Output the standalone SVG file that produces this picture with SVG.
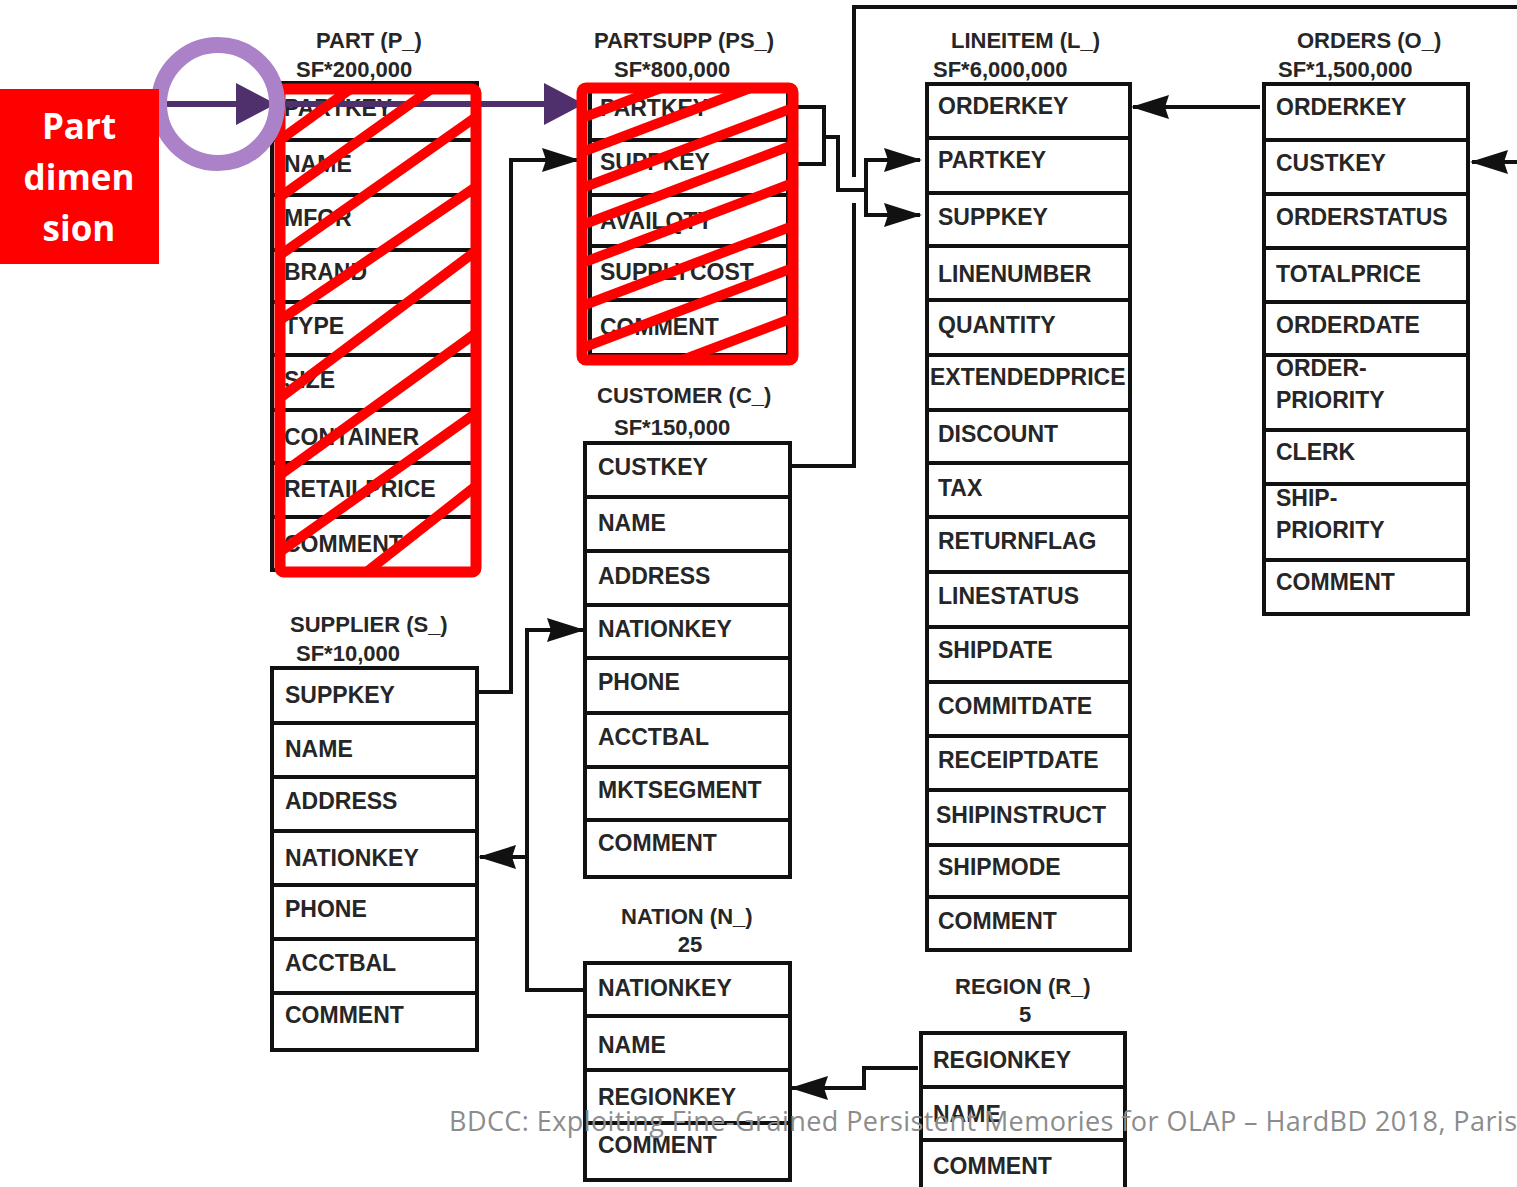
<svg xmlns="http://www.w3.org/2000/svg" width="1517" height="1187" viewBox="0 0 1517 1187">
  <style>
    .box { fill: #ffffff; stroke: #111111; stroke-width: 4; }
    .sep { fill: none; stroke: #111111; stroke-width: 4; }
    .fld { font-family: "Liberation Sans", Arial, sans-serif; font-weight: bold; font-size: 23px; fill: #262626; }
    .ttl { font-family: "Liberation Sans", Arial, sans-serif; font-weight: bold; font-size: 22px; fill: #262626; }
    .mid { text-anchor: middle; }
    .wire { fill: none; stroke: #111111; stroke-width: 4; }
    .arrow { marker-end: url(#ah); }
    .plink { fill: none; stroke: #50306c; stroke-width: 6; marker-end: url(#pah); }
    .frame { fill: none; stroke: #ff0000; stroke-width: 11; }
    .hatch { fill: none; stroke: #ff0000; stroke-width: 10; }
    .tag { font-family: "Open Sans", "Liberation Sans", sans-serif; font-weight: bold; font-size: 35px; fill: #ffffff; text-anchor: middle; }
    .foot { font-family: "Open Sans", "Liberation Sans", sans-serif; font-size: 27px; fill: #8c8c8c; }
  </style>
  <defs>
    <marker id="ah" markerUnits="userSpaceOnUse" markerWidth="38" markerHeight="24" refX="36" refY="12" orient="auto">
      <path d="M0,0 L38,12 L0,24 L4,12 z" fill="#111111"/>
    </marker>
    <marker id="pah" markerUnits="userSpaceOnUse" markerWidth="40" markerHeight="42" refX="38" refY="21" orient="auto">
      <path d="M0,0 L40,21 L0,42 z" fill="#50306c"/>
    </marker>
    <clipPath id="clipPart"><rect x="280" y="89" width="196" height="483"/></clipPath>
    <clipPath id="clipPs"><rect x="582" y="88" width="211" height="272"/></clipPath>
  </defs>

  <rect width="1517" height="1187" fill="#ffffff"/>

  <!-- PART -->
  <g id="part">
    <text class="ttl" x="316" y="48">PART (P_)</text>
    <text class="ttl" x="296" y="77">SF*200,000</text>
    <rect class="box" x="272" y="83" width="205" height="487"/>
    <path class="sep" d="M272,140H477M272,195H477M272,250H477M272,302H477M272,355H477M272,410H477M272,463H477M272,517H477"/>
    <text class="fld" x="284" y="116">PARTKEY</text>
    <text class="fld" x="284" y="172">NAME</text>
    <text class="fld" x="284" y="226">MFGR</text>
    <text class="fld" x="284" y="280">BRAND</text>
    <text class="fld" x="284" y="334">TYPE</text>
    <text class="fld" x="284" y="388">SIZE</text>
    <text class="fld" x="284" y="445">CONTAINER</text>
    <text class="fld" x="284" y="497">RETAILPRICE</text>
    <text class="fld" x="284" y="552">COMMENT</text>
  </g>

  <!-- PARTSUPP -->
  <g id="partsupp">
    <text class="ttl" x="594" y="48">PARTSUPP (PS_)</text>
    <text class="ttl" x="614" y="77">SF*800,000</text>
    <rect class="box" x="590" y="86" width="198" height="269"/>
    <path class="sep" d="M590,140H788M590,195H788M590,246H788M590,300H788"/>
    <text class="fld" x="600" y="116">PARTKEY</text>
    <text class="fld" x="600" y="170">SUPPKEY</text>
    <text class="fld" x="600" y="229">AVAILQTY</text>
    <text class="fld" x="600" y="280">SUPPLYCOST</text>
    <text class="fld" x="600" y="335">COMMENT</text>
  </g>

  <!-- LINEITEM -->
  <g id="lineitem">
    <text class="ttl" x="951" y="48">LINEITEM (L_)</text>
    <text class="ttl" x="933" y="77">SF*6,000,000</text>
    <rect class="box" x="927" y="84" width="203" height="866"/>
    <path class="sep" d="M927,138H1130M927,193H1130M927,246H1130M927,300H1130M927,355H1130M927,410H1130M927,463H1130M927,517H1130M927,572H1130M927,627H1130M927,682H1130M927,736H1130M927,790H1130M927,845H1130M927,897H1130"/>
    <text class="fld" x="938" y="114">ORDERKEY</text>
    <text class="fld" x="938" y="168">PARTKEY</text>
    <text class="fld" x="938" y="225">SUPPKEY</text>
    <text class="fld" x="938" y="282">LINENUMBER</text>
    <text class="fld" x="938" y="333">QUANTITY</text>
    <text class="fld" x="930" y="385">EXTENDEDPRICE</text>
    <text class="fld" x="938" y="442">DISCOUNT</text>
    <text class="fld" x="938" y="496">TAX</text>
    <text class="fld" x="938" y="549">RETURNFLAG</text>
    <text class="fld" x="938" y="604">LINESTATUS</text>
    <text class="fld" x="938" y="658">SHIPDATE</text>
    <text class="fld" x="938" y="714">COMMITDATE</text>
    <text class="fld" x="938" y="768">RECEIPTDATE</text>
    <text class="fld" x="936" y="823">SHIPINSTRUCT</text>
    <text class="fld" x="938" y="875">SHIPMODE</text>
    <text class="fld" x="938" y="929">COMMENT</text>
  </g>

  <!-- ORDERS -->
  <g id="orders">
    <text class="ttl" x="1297" y="48">ORDERS (O_)</text>
    <text class="ttl" x="1278" y="77">SF*1,500,000</text>
    <rect class="box" x="1264" y="84" width="204" height="530"/>
    <path class="sep" d="M1264,140H1468M1264,194H1468M1264,248H1468M1264,302H1468M1264,355H1468M1264,430H1468M1264,484H1468M1264,560H1468"/>
    <text class="fld" x="1276" y="115">ORDERKEY</text>
    <text class="fld" x="1276" y="171">CUSTKEY</text>
    <text class="fld" x="1276" y="225">ORDERSTATUS</text>
    <text class="fld" x="1276" y="282">TOTALPRICE</text>
    <text class="fld" x="1276" y="333">ORDERDATE</text>
    <text class="fld" x="1276" y="376">ORDER-</text>
    <text class="fld" x="1276" y="408">PRIORITY</text>
    <text class="fld" x="1276" y="460">CLERK</text>
    <text class="fld" x="1276" y="506">SHIP-</text>
    <text class="fld" x="1276" y="538">PRIORITY</text>
    <text class="fld" x="1276" y="590">COMMENT</text>
  </g>

  <!-- CUSTOMER -->
  <g id="customer">
    <text class="ttl" x="597" y="403">CUSTOMER (C_)</text>
    <text class="ttl" x="614" y="435">SF*150,000</text>
    <rect class="box" x="585" y="443" width="205" height="434"/>
    <path class="sep" d="M585,497H790M585,551H790M585,605H790M585,658H790M585,713H790M585,767H790M585,820H790"/>
    <text class="fld" x="598" y="475">CUSTKEY</text>
    <text class="fld" x="598" y="531">NAME</text>
    <text class="fld" x="598" y="584">ADDRESS</text>
    <text class="fld" x="598" y="637">NATIONKEY</text>
    <text class="fld" x="598" y="690">PHONE</text>
    <text class="fld" x="598" y="745">ACCTBAL</text>
    <text class="fld" x="598" y="798">MKTSEGMENT</text>
    <text class="fld" x="598" y="851">COMMENT</text>
  </g>

  <!-- SUPPLIER -->
  <g id="supplier">
    <text class="ttl" x="290" y="632">SUPPLIER (S_)</text>
    <text class="ttl" x="296" y="661">SF*10,000</text>
    <rect class="box" x="272" y="668" width="205" height="382"/>
    <path class="sep" d="M272,723H477M272,777H477M272,831H477M272,885H477M272,939H477M272,993H477"/>
    <text class="fld" x="285" y="703">SUPPKEY</text>
    <text class="fld" x="285" y="757">NAME</text>
    <text class="fld" x="285" y="809">ADDRESS</text>
    <text class="fld" x="285" y="866">NATIONKEY</text>
    <text class="fld" x="285" y="917">PHONE</text>
    <text class="fld" x="285" y="971">ACCTBAL</text>
    <text class="fld" x="285" y="1023">COMMENT</text>
  </g>

  <!-- NATION -->
  <g id="nation">
    <text class="ttl" x="621" y="924">NATION (N_)</text>
    <text class="ttl mid" x="690" y="952">25</text>
    <rect class="box" x="585" y="963" width="205" height="217"/>
    <path class="sep" d="M585,1016H790M585,1070H790M585,1123H790"/>
    <text class="fld" x="598" y="996">NATIONKEY</text>
    <text class="fld" x="598" y="1053">NAME</text>
    <text class="fld" x="598" y="1105">REGIONKEY</text>
    <text class="fld" x="598" y="1153">COMMENT</text>
  </g>

  <!-- REGION -->
  <g id="region">
    <text class="ttl" x="955" y="994">REGION (R_)</text>
    <text class="ttl mid" x="1025" y="1022">5</text>
    <rect class="box" x="921" y="1033" width="204" height="170"/>
    <path class="sep" d="M921,1087H1125M921,1140H1125"/>
    <text class="fld" x="933" y="1068">REGIONKEY</text>
    <text class="fld" x="933" y="1122">NAME</text>
    <text class="fld" x="933" y="1174">COMMENT</text>
  </g>

  <!-- key references -->
  <g id="connectors">
    <path class="wire" d="M790,107H824V164H790M824,137H838V190H866"/>
    <path class="wire arrow" d="M866,190V160H920"/>
    <path class="wire arrow" d="M866,190V215H920"/>
    <path class="wire" d="M790,466H854V203M854,177V7H1517"/>
    <path class="wire arrow" d="M1517,162H1472"/>
    <path class="wire arrow" d="M1260,107H1133"/>
    <path class="wire arrow" d="M477,692H511V160H578"/>
    <path class="wire arrow" d="M585,990H527V630H583"/>
    <path class="wire arrow" d="M527,857H480"/>
    <path class="wire arrow" d="M918,1068H864V1088H792"/>
    <path class="plink" d="M167,104H274"/>
    <path class="plink" d="M274,104H582"/>
  </g>

  <!-- highlighted tables -->
  <g id="part-highlight">
    <g clip-path="url(#clipPart)">
      <path class="hatch" d="M280,140L476,-2M280,197L476,57M280,255L476,117M280,320L476,187M280,398L476,251M280,475L476,333M280,552L476,413M280,640L476,486"/>
    </g>
    <rect class="frame" x="280" y="89" width="196" height="483" rx="4"/>
  </g>
  <g id="partsupp-highlight">
    <g clip-path="url(#clipPs)">
      <path class="hatch" d="M582,118L793,38M582,152L793,72M582,188L793,108M582,225L793,145M582,263L793,183M582,306L793,226M582,348L793,268M582,398L793,318"/>
    </g>
    <rect class="frame" x="582" y="88" width="211" height="272" rx="4"/>
  </g>

  <!-- callout -->
  <g id="callout">
    <circle cx="218" cy="104" r="59" fill="none" stroke="#ab82c8" stroke-width="16"/>
    <rect x="0" y="89" width="159" height="175" fill="#ff0000"/>
    <text class="tag" x="79" y="139">Part</text>
    <text class="tag" x="79" y="190">dimen</text>
    <text class="tag" x="79" y="241">sion</text>
  </g>

  <text class="foot" x="449" y="1131" textLength="1068" lengthAdjust="spacing">BDCC: Exploiting Fine-Grained Persistent Memories for OLAP – HardBD 2018, Paris</text>
</svg>
